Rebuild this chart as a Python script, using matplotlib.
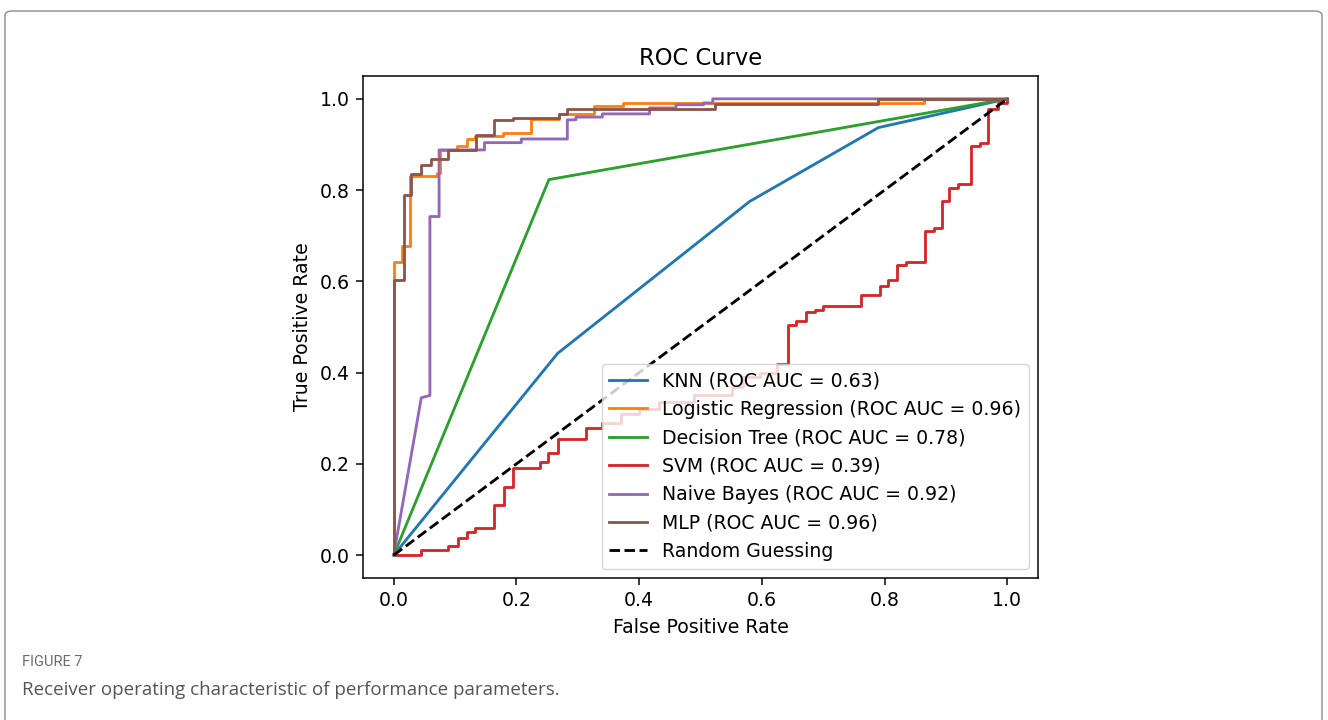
import matplotlib
matplotlib.use("Agg")
import matplotlib.pyplot as plt
from matplotlib.patches import FancyBboxPatch

# ---- data ----
knn_fpr = [0, 0.267, 0.58, 0.79, 1.0]
knn_tpr = [0, 0.442, 0.775, 0.937, 1.0]

lr_fpr = [0, 0, 0.013, 0.013, 0.026, 0.026, 0.07, 0.07, 0.075, 0.075, 0.103, 0.103,
          0.119, 0.119, 0.132, 0.132, 0.178, 0.178, 0.224, 0.224, 0.27, 0.27,
          0.327, 0.327, 0.373, 0.373, 0.865, 0.865, 1.0]
lr_tpr = [0, 0.643, 0.643, 0.678, 0.678, 0.831, 0.831, 0.838, 0.838, 0.888, 0.888, 0.897,
          0.897, 0.912, 0.912, 0.919, 0.919, 0.926, 0.926, 0.956, 0.956, 0.967,
          0.967, 0.985, 0.985, 0.991, 0.991, 1.0, 1.0]

dt_fpr = [0, 0.253, 1.0]
dt_tpr = [0, 0.823, 1.0]

svm_fpr = [0, 0.044, 0.044, 0.088, 0.088, 0.104, 0.104, 0.119, 0.119, 0.133, 0.133,
           0.164, 0.164, 0.179, 0.179, 0.194, 0.194, 0.239, 0.239, 0.252, 0.252,
           0.267, 0.267, 0.313, 0.313, 0.34, 0.34, 0.37, 0.37, 0.40, 0.40, 0.433,
           0.433, 0.49, 0.49, 0.552, 0.552, 0.57, 0.57, 0.597, 0.597, 0.625, 0.625,
           0.642, 0.642, 0.656, 0.656, 0.672, 0.672, 0.686, 0.686, 0.70, 0.70,
           0.762, 0.762, 0.792, 0.792, 0.805, 0.805, 0.821, 0.821, 0.835, 0.835,
           0.866, 0.866, 0.88, 0.88, 0.893, 0.893, 0.905, 0.905, 0.92, 0.92,
           0.94, 0.94, 0.955, 0.955, 0.969, 0.969, 0.985, 0.985, 1.0, 1.0]
svm_tpr = [0, 0, 0.011, 0.011, 0.02, 0.02, 0.037, 0.037, 0.05, 0.05, 0.059,
           0.059, 0.109, 0.109, 0.149, 0.149, 0.19, 0.19, 0.204, 0.204, 0.223,
           0.223, 0.254, 0.254, 0.278, 0.278, 0.29, 0.29, 0.31, 0.31, 0.32, 0.32,
           0.335, 0.335, 0.35, 0.35, 0.368, 0.368, 0.39, 0.39, 0.40, 0.40, 0.42,
           0.42, 0.505, 0.505, 0.514, 0.514, 0.532, 0.532, 0.538, 0.538, 0.547,
           0.547, 0.571, 0.571, 0.589, 0.589, 0.602, 0.602, 0.635, 0.635, 0.643,
           0.643, 0.71, 0.71, 0.718, 0.718, 0.777, 0.777, 0.805, 0.805, 0.814,
           0.814, 0.897, 0.897, 0.904, 0.904, 0.978, 0.978, 0.99, 0.99, 1.0]

nb_fpr = [0, 0.045, 0.059, 0.059, 0.074, 0.074, 0.148, 0.148, 0.208, 0.208, 0.283,
          0.283, 0.297, 0.297, 0.34, 0.34, 0.417, 0.417, 0.46, 0.46, 0.505, 0.505,
          0.52, 0.52, 1.0]
nb_tpr = [0, 0.345, 0.35, 0.742, 0.742, 0.888, 0.888, 0.904, 0.904, 0.912, 0.912,
          0.954, 0.954, 0.96, 0.96, 0.967, 0.967, 0.98, 0.98, 0.987, 0.987, 0.991,
          0.991, 1.0, 1.0]

mlp_fpr = [0, 0, 0.016, 0.016, 0.029, 0.029, 0.045, 0.045, 0.06, 0.06, 0.089, 0.089,
           0.134, 0.134, 0.163, 0.163, 0.194, 0.194, 0.269, 0.269, 0.283, 0.283,
           0.523, 0.523, 0.79, 0.79, 1.0]
mlp_tpr = [0, 0.602, 0.602, 0.79, 0.79, 0.836, 0.836, 0.856, 0.856, 0.869, 0.869, 0.888,
           0.888, 0.921, 0.921, 0.954, 0.954, 0.958, 0.958, 0.967, 0.967, 0.978,
           0.978, 0.989, 0.989, 1.0, 1.0]

model_names = ["KNN", "Logistic Regression", "Decision Tree", "SVM", "Naive Bayes", "MLP"]
auc_values = [0.63, 0.96, 0.78, 0.39, 0.92, 0.96]
fpr_list = [knn_fpr, lr_fpr, dt_fpr, svm_fpr, nb_fpr, mlp_fpr]
tpr_list = [knn_tpr, lr_tpr, dt_tpr, svm_tpr, nb_tpr, mlp_tpr]

diag_x = [0, 1]
diag_y = [0, 1]

title = "ROC Curve"
xlabel = "False Positive Rate"
ylabel = "True Positive Rate"
caption_head = "FIGURE 7"
caption_text = "Receiver operating characteristic of performance parameters."

# ---- styling (scaled from matplotlib defaults) ----
s = 1.36
plt.rcParams.update({
    "font.family": ["DejaVu Sans"],
    "font.size": 10 * s,
    "axes.linewidth": 0.8 * s,
    "lines.linewidth": 1.5 * s,
    "xtick.major.size": 3.5 * s,
    "ytick.major.size": 3.5 * s,
    "xtick.major.width": 0.8 * s,
    "ytick.major.width": 0.8 * s,
    "xtick.major.pad": 3.5 * s,
    "ytick.major.pad": 3.5 * s,
    "axes.labelpad": 4.0 * s,
    "axes.titlepad": 6.0 * s,
    "lines.dashed_pattern": (3.7, 1.6),
})

fig = plt.figure(figsize=(13.28, 7.2), dpi=100)
W, H = 1328, 720

# frame around the figure panel
frame = FancyBboxPatch((5 / W, -0.05), 1317 / W, (720 - 11) / H + 0.05,
                       boxstyle="round,pad=0,rounding_size=0.006",
                       transform=fig.transFigure, facecolor="none",
                       edgecolor="#8a8a8a", linewidth=1.0)
fig.patches.append(frame)

ax = fig.add_axes([363 / W, 1 - 578 / H, (1038 - 363) / W, (578 - 76) / H])

for name, auc, fx, ty in zip(model_names, auc_values, fpr_list, tpr_list):
    ax.plot(fx, ty, label=f"{name} (ROC AUC = {auc:.2f})")
ax.plot(diag_x, diag_y, "k--", label="Random Guessing")

ax.set_title(title)
ax.set_xlabel(xlabel)
ax.set_ylabel(ylabel)
ax.legend(loc="lower right")

fig.text(22 / W, 1 - 662 / H, caption_head, fontsize=10.5, color="#6b6b6b",
         family=["Liberation Sans Narrow", "Roboto", "DejaVu Sans"],
         va="center", ha="left")
fig.text(22 / W, 1 - 690 / H, caption_text, fontsize=13.5, color="#555555",
         family=["Open Sans", "DejaVu Sans"], va="center", ha="left")

fig.savefig("out.png", dpi=100)
